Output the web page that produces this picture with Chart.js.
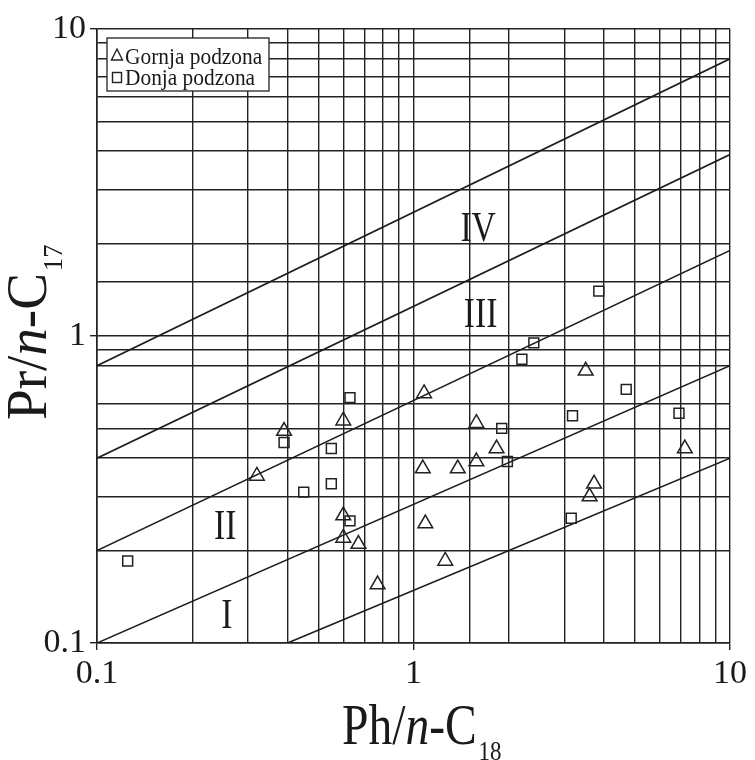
<!DOCTYPE html>
<html>
<head>
<meta charset="utf-8">
<script src="https://cdn.jsdelivr.net/npm/chart.js@4/dist/chart.umd.min.js"></script>
<style>
  html, body { margin: 0; padding: 0; background: #fff; }
  #wrap { width: 755px; height: 760px; }
</style>
</head>
<body>
<div id="wrap"><canvas id="chart" width="755" height="760"></canvas></div>
<script>
// Gornja podzona (triangles)
const gornjaX = [1.08, 0.60, 0.39, 1.58, 1.58, 0.32, 1.07, 1.38, 0.60, 0.60, 0.67, 1.09, 1.26, 0.77, 3.50, 1.83, 7.20, 3.72, 3.60];
const gornjaY = [0.65, 0.53, 0.49, 0.52, 0.39, 0.35, 0.37, 0.37, 0.26, 0.22, 0.21, 0.245, 0.185, 0.155, 0.77, 0.43, 0.43, 0.33, 0.30];

// Donja podzona (squares)
const donjaX = [0.125, 0.39, 0.45, 0.55, 0.55, 0.63, 0.63, 1.90, 1.98, 2.20, 2.40, 3.85, 3.18, 3.15, 4.70, 6.90];
const donjaY = [0.185, 0.45, 0.31, 0.43, 0.33, 0.63, 0.25, 0.50, 0.39, 0.84, 0.95, 1.40, 0.55, 0.255, 0.67, 0.56];

// Granice zona (pocetna i krajnja tacka svake linije)
const lineStartX = [0.4, 0.1, 0.1, 0.1, 0.1];
const lineStartY = [0.1, 0.1, 0.2, 0.4, 0.8];
const lineEndX   = [10, 10, 10, 10, 10];
const lineEndY   = [0.4, 0.8, 1.9, 3.9, 8.0];

// Oznake zona
const zoneLabels = ['I', 'II', 'III', 'IV'];
const zoneX = [0.257, 0.254, 1.63, 1.60];
const zoneY = [0.122, 0.237, 1.16, 2.22];

// Ose
const axisMin = 0.1;
const axisMax = 10;
const tickValues = [0.1, 1, 10];
const tickTexts = ['0.1', '1', '10'];
const hiddenYGrid = [0.7];

const INK = '#222';
const SERIF = "'Liberation Serif', 'Times New Roman', serif";

const near = (a, b) => Math.abs(a - b) < 1e-6 * Math.max(1, Math.abs(b));
const tickLabel = v => {
    const i = tickValues.findIndex(t => near(v, t));
    return i >= 0 ? tickTexts[i] : '';
};

const toPoints = (xs, ys) => xs.map((x, i) => ({ x: x, y: ys[i] }));

const boundaryDatasets = lineStartX.map((x0, i) => ({
    label: 'granica ' + (i + 1),
    data: [{ x: x0, y: lineStartY[i] }, { x: lineEndX[i], y: lineEndY[i] }],
    showLine: true,
    borderColor: '#1c1c1c',
    borderWidth: 1.6,
    pointRadius: 0,
    pointHoverRadius: 0,
    order: 5
}));

// Rimske oznake zona
const zonePlugin = {
    id: 'zones',
    afterDatasetsDraw(chart) {
        const ctx = chart.ctx;
        const xs = chart.scales.x, ys = chart.scales.y;
        ctx.save();
        ctx.fillStyle = '#1a1a1a';
        ctx.font = '42px ' + SERIF;
        ctx.textAlign = 'center';
        ctx.textBaseline = 'middle';
        zoneLabels.forEach((t, i) => {
            const px = xs.getPixelForValue(zoneX[i]);
            const py = ys.getPixelForValue(zoneY[i]);
            ctx.save();
            ctx.translate(px, py);
            ctx.scale(0.8, 1);
            ctx.fillText(t, 0, 0);
            ctx.restore();
        });
        ctx.restore();
    }
};

// Legenda u uglu grafika
const legendPlugin = {
    id: 'boxLegend',
    afterDraw(chart) {
        const ctx = chart.ctx;
        const a = chart.chartArea;
        const bx = a.left + 10, by = a.top + 9, bw = 162, bh = 53;
        ctx.save();
        ctx.fillStyle = '#fff';
        ctx.fillRect(bx, by, bw, bh);
        ctx.strokeStyle = INK;
        ctx.lineWidth = 1.3;
        ctx.strokeRect(bx, by, bw, bh);

        ctx.lineWidth = 1.4;
        // trokut
        ctx.beginPath();
        ctx.moveTo(bx + 10, by + 11);
        ctx.lineTo(bx + 15.5, by + 22);
        ctx.lineTo(bx + 4.5, by + 22);
        ctx.closePath();
        ctx.stroke();
        // kvadrat
        ctx.strokeRect(bx + 5.5, by + 34.5, 9, 10);

        ctx.fillStyle = '#1a1a1a';
        ctx.font = '23px ' + SERIF;
        ctx.textAlign = 'left';
        ctx.textBaseline = 'alphabetic';
        const labels = [chart.data.datasets[0].label, chart.data.datasets[1].label];
        [by + 26, by + 47].forEach((yy, i) => {
            ctx.save();
            ctx.translate(bx + 18, yy);
            ctx.scale(0.93, 1);
            ctx.fillText(labels[i], 0, 0);
            ctx.restore();
        });
        ctx.restore();
    }
};

// Naslovi osa sa kurzivom i indeksom
function drawAxisTitle(ctx, parts, sub) {
    let x = 0;
    parts.forEach(p => {
        ctx.font = (p.italic ? 'italic ' : '') + '58px ' + SERIF;
        ctx.fillText(p.t, x, 0);
        x += ctx.measureText(p.t).width;
    });
    ctx.font = '28px ' + SERIF;
    ctx.fillText(sub, x + 2, 16);
}

const titlePlugin = {
    id: 'axisTitles',
    afterDraw(chart) {
        const ctx = chart.ctx;
        ctx.save();
        ctx.fillStyle = '#1a1a1a';
        ctx.textAlign = 'left';
        ctx.textBaseline = 'alphabetic';

        ctx.save();
        ctx.translate(342, 744);
        ctx.scale(0.82, 1);
        drawAxisTitle(ctx, [{ t: 'Ph/' }, { t: 'n', italic: true }, { t: '-C' }], '18');
        ctx.restore();

        ctx.save();
        ctx.translate(46, 420);
        ctx.rotate(-Math.PI / 2);
        ctx.scale(0.95, 1);
        drawAxisTitle(ctx, [{ t: 'Pr/' }, { t: 'n', italic: true }, { t: '-C' }], '17');
        ctx.restore();

        ctx.restore();
    }
};

const gridColorY = c => hiddenYGrid.some(v => near(c.tick.value, v)) ? 'rgba(0,0,0,0)' : INK;
const tickMarkColor = c => tickLabel(c.tick.value) ? INK : 'rgba(0,0,0,0)';

new Chart(document.getElementById('chart'), {
    type: 'scatter',
    data: {
        datasets: [
            {
                label: 'Gornja podzona',
                data: toPoints(gornjaX, gornjaY),
                pointStyle: 'triangle',
                pointRadius: 8.5,
                borderColor: INK,
                backgroundColor: 'rgba(0,0,0,0)',
                borderWidth: 1.5,
                order: 1
            },
            {
                label: 'Donja podzona',
                data: toPoints(donjaX, donjaY),
                pointStyle: 'rect',
                pointRadius: 7,
                borderColor: INK,
                backgroundColor: 'rgba(0,0,0,0)',
                borderWidth: 1.5,
                order: 2
            },
            ...boundaryDatasets
        ]
    },
    options: {
        responsive: false,
        animation: false,
        layout: { padding: { top: 29, right: 25, left: 0, bottom: 0 } },
        plugins: {
            legend: { display: false },
            tooltip: { enabled: false }
        },
        scales: {
            x: {
                type: 'logarithmic',
                min: axisMin,
                max: axisMax,
                afterFit: s => { s.height = 117; },
                grid: { color: INK, lineWidth: 1.4, tickLength: 7, tickColor: tickMarkColor },
                border: { color: INK, width: 1.6 },
                ticks: {
                    autoSkip: false,
                    maxRotation: 0,
                    padding: 4,
                    color: '#1a1a1a',
                    font: { family: SERIF, size: 34 },
                    callback: v => tickLabel(v)
                }
            },
            y: {
                type: 'logarithmic',
                min: axisMin,
                max: axisMax,
                afterFit: s => { s.width = 97; },
                grid: { color: gridColorY, lineWidth: 1.4, tickLength: 7, tickColor: tickMarkColor },
                border: { color: INK, width: 1.6 },
                ticks: {
                    autoSkip: false,
                    padding: 4,
                    color: '#1a1a1a',
                    font: { family: SERIF, size: 34 },
                    callback: v => tickLabel(v)
                }
            }
        }
    },
    plugins: [zonePlugin, legendPlugin, titlePlugin]
});
</script>
</body>
</html>
